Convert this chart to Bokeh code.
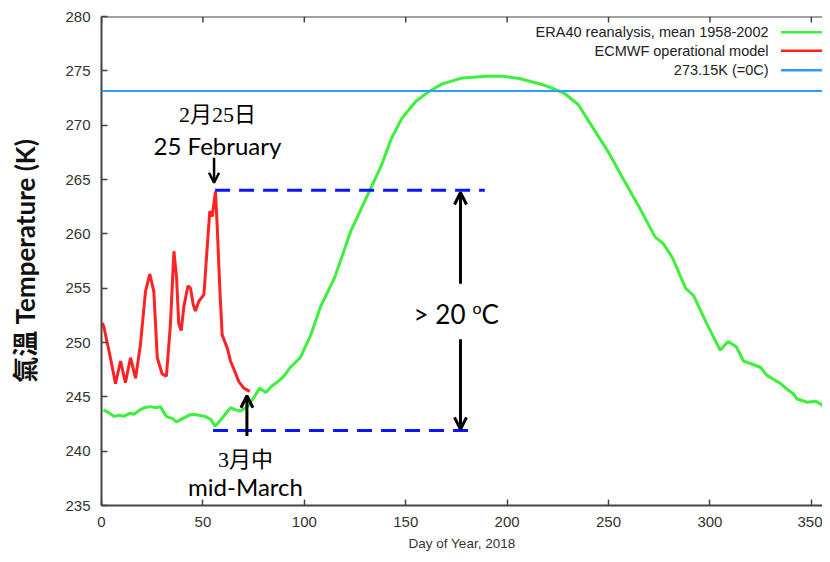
from bokeh.plotting import figure
from bokeh.models import Label, Arrow, OpenHead, Span, FixedTicker, Range1d
from bokeh.core.properties import value
from bokeh.embed import file_html
from bokeh.resources import INLINE

# ---------------- data ----------------
era_day = [1, 4, 6, 9, 11, 14, 16, 19, 21, 24, 27, 29, 32, 35, 37, 40, 43, 45, 48, 51,
           54, 56, 58, 61, 63.6, 66, 68.5, 72, 75, 78, 81, 84, 87, 90, 93, 98, 103, 108,
           115, 123, 131, 138, 143, 148, 155, 161.5, 168, 178, 190, 198, 206, 218, 228,
           235, 241.5, 250, 256.5, 265, 273, 277, 281.5, 288, 292, 298, 305, 309, 313,
           316.5, 321, 325, 328, 331.5, 335, 338, 341, 343, 348, 352, 355, 358, 360]
era_temp = [243.8, 243.5, 243.2, 243.3, 243.2, 243.5, 243.4, 243.8, 244.0, 244.1, 244.0,
            244.1, 243.2, 243.0, 242.7, 243.0, 243.3, 243.4, 243.3, 243.2, 242.9, 242.3,
            242.7, 243.4, 244.0, 243.8, 243.7, 244.1, 244.9, 245.8, 245.4, 246.0, 246.4,
            246.9, 247.7, 248.6, 250.6, 253.3, 256.0, 260.3, 263.5, 266.3, 268.8, 270.6,
            272.2, 273.1, 273.8, 274.35, 274.5, 274.5, 274.3, 273.7, 272.96, 271.9, 270.0,
            267.5, 265.3, 262.5, 259.7, 259.1, 257.8, 255.0, 254.3, 251.9, 249.3, 250.1,
            249.6, 248.3, 248.0, 247.7, 247.0, 246.6, 246.2, 245.7, 245.3, 244.8, 244.5,
            244.6, 244.3, 243.6, 243.0]

ecmwf_day = [0.5, 1.2, 4.4, 6.9, 9.4, 11.8, 14.3, 16.8, 19.2, 21.7, 23.8, 25.8, 27.5,
             29.9, 32.0, 34.0, 35.7, 37.0, 38.1, 39.3, 40.6, 42.6, 43.9, 45.2, 46.3,
             48.0, 50.5, 52.1, 53.4, 54.6, 56.2, 57.0, 58.4, 59.5, 62.0, 63.6, 65.6,
             67.7, 70.2, 73.1]
ecmwf_temp = [251.8, 251.4, 248.6, 246.2, 248.3, 246.3, 248.6, 246.7, 249.8, 254.7,
              256.3, 254.7, 248.6, 247.1, 246.9, 251.7, 258.4, 256.0, 251.7, 251.1,
              253.3, 255.2, 255.0, 253.5, 252.9, 253.8, 254.4, 258.7, 262.1, 261.6,
              263.9, 260.9, 254.7, 250.7, 249.5, 248.3, 247.4, 246.4, 245.8, 245.5]

FREEZE_K = 273.15
PEAK_T = 264.0
LOW_T = 241.9

x_ticks = [0, 50, 100, 150, 200, 250, 300, 350]
y_ticks = [235, 240, 245, 250, 255, 260, 265, 270, 275, 280]

legend_labels = ["ERA40 reanalysis, mean 1958-2002", "ECMWF operational model", "273.15K (=0C)"]

# ---------------- colours ----------------
GREEN = "#3cf03c"
RED = "#ff2222"
SKY = "#3399ff"
BLUE = "#0a14ff"
AXIS = "#444444"

p = figure(width=822, height=554, output_backend="svg", toolbar_location=None,
           x_range=Range1d(0, 355.5), y_range=Range1d(235, 280),
           min_border_left=101, min_border_right=0, min_border_top=16, min_border_bottom=49)
p.grid.visible = False
p.outline_line_color = None
p.background_fill_color = "white"
p.border_fill_color = "white"

# axes
for ax in (p.xaxis[0], p.yaxis[0]):
    ax.axis_line_color = AXIS
    ax.axis_line_width = 2
    ax.major_tick_line_color = AXIS
    ax.major_tick_line_width = 1.5
    ax.major_tick_in = 6
    ax.major_tick_out = 0
    ax.minor_tick_line_color = None
    ax.major_label_text_font = "Liberation Sans"
    ax.major_label_text_font_size = "15px"
    ax.major_label_text_color = "#333333"
p.xaxis.ticker = FixedTicker(ticks=x_ticks)
p.yaxis.ticker = FixedTicker(ticks=y_ticks)
p.xaxis.major_label_standoff = 11
p.yaxis.major_label_standoff = 11
p.xaxis.axis_label = "Day of Year, 2018"
p.xaxis.axis_label_text_font = "Liberation Sans"
p.xaxis.axis_label_text_font_style = "normal"
p.xaxis.axis_label_text_font_size = "13.5px"
p.xaxis.axis_label_text_color = "#333333"
p.xaxis.axis_label_standoff = 6
p.yaxis.axis_label = "氣溫 Temperature (K)"
p.yaxis.axis_label_text_font = "Lato, Noto Sans CJK TC"
p.yaxis.axis_label_text_font_style = "bold"
p.yaxis.axis_label_text_font_size = "26px"
p.yaxis.axis_label_text_color = "#111111"
p.yaxis.axis_label_standoff = 21

# top frame line with inward ticks
p.add_layout(Span(location=280, dimension="width", line_color=AXIS, line_width=2))
p.segment(x0=x_ticks, y0=[280] * len(x_ticks), x1=x_ticks, y1=[279.45] * len(x_ticks),
          line_color=AXIS, line_width=1.5)

# zero line
p.add_layout(Span(location=FREEZE_K, dimension="width", line_color=SKY, line_width=2))

# data lines
p.line(era_day, era_temp, line_color=GREEN, line_width=3)
p.line(ecmwf_day, ecmwf_temp, line_color=RED, line_width=3)

# dashed reference levels
p.segment(x0=[56, 55], y0=[PEAK_T, LOW_T], x1=[189, 185], y1=[PEAK_T, LOW_T],
          line_color=BLUE, line_width=3, line_dash="15 9")

# manual legend (text right, sample to the right)
leg_y = [278.55, 276.85, 275.05]
leg_col = [GREEN, RED, SKY]
p.text(x=[328.9] * 3, y=leg_y, text=legend_labels, text_align="right",
       text_baseline="middle", text_font=value("Liberation Sans"), text_font_size="14.5px",
       text_color="#222222")
p.segment(x0=[335.0] * 3, y0=leg_y, x1=[355.5] * 3, y1=leg_y, line_color=leg_col, line_width=2.5)

# arrows
def arrow(x, y0, y1, w=3, size=12):
    p.add_layout(Arrow(end=OpenHead(size=size, line_width=w, line_color="black"),
                       x_start=x, y_start=y0, x_end=x, y_end=y1,
                       line_width=w, line_color="black"))

arrow(177, 255.4, 263.8)
arrow(177, 250.3, 242.0)
arrow(55.5, 267.0, 264.7, w=2.5, size=10)
arrow(71.7, 241.4, 245.1, w=3, size=12)

SANS = "Lato"
CJK = "Liberation Serif, Noto Sans CJK TC"

def label(txt, x, y, font, size, align="center", xo=0, yo=0):
    p.add_layout(Label(x=x, y=y, text=txt, text_font=font, text_font_size=size,
                       text_align=align, text_baseline="middle", text_color="black",
                       x_offset=xo, y_offset=yo))

label("2月25日", 57.2, 271.0, CJK, "22px")
label("25 February", 57.2, 268.1, SANS, "24px")
label("3月中", 71.0, 239.25, CJK, "22px")
label("mid-March", 71.0, 236.75, SANS, "24px")
label("> 20", 177, 252.63, SANS, "26px", align="right", xo=5)
label("o", 177, 252.63, SANS, "16px", align="left", xo=12, yo=6)
label("C", 177, 252.63, SANS, "26px", align="left", xo=21)

open("out.html", "w").write(file_html(p, INLINE))
